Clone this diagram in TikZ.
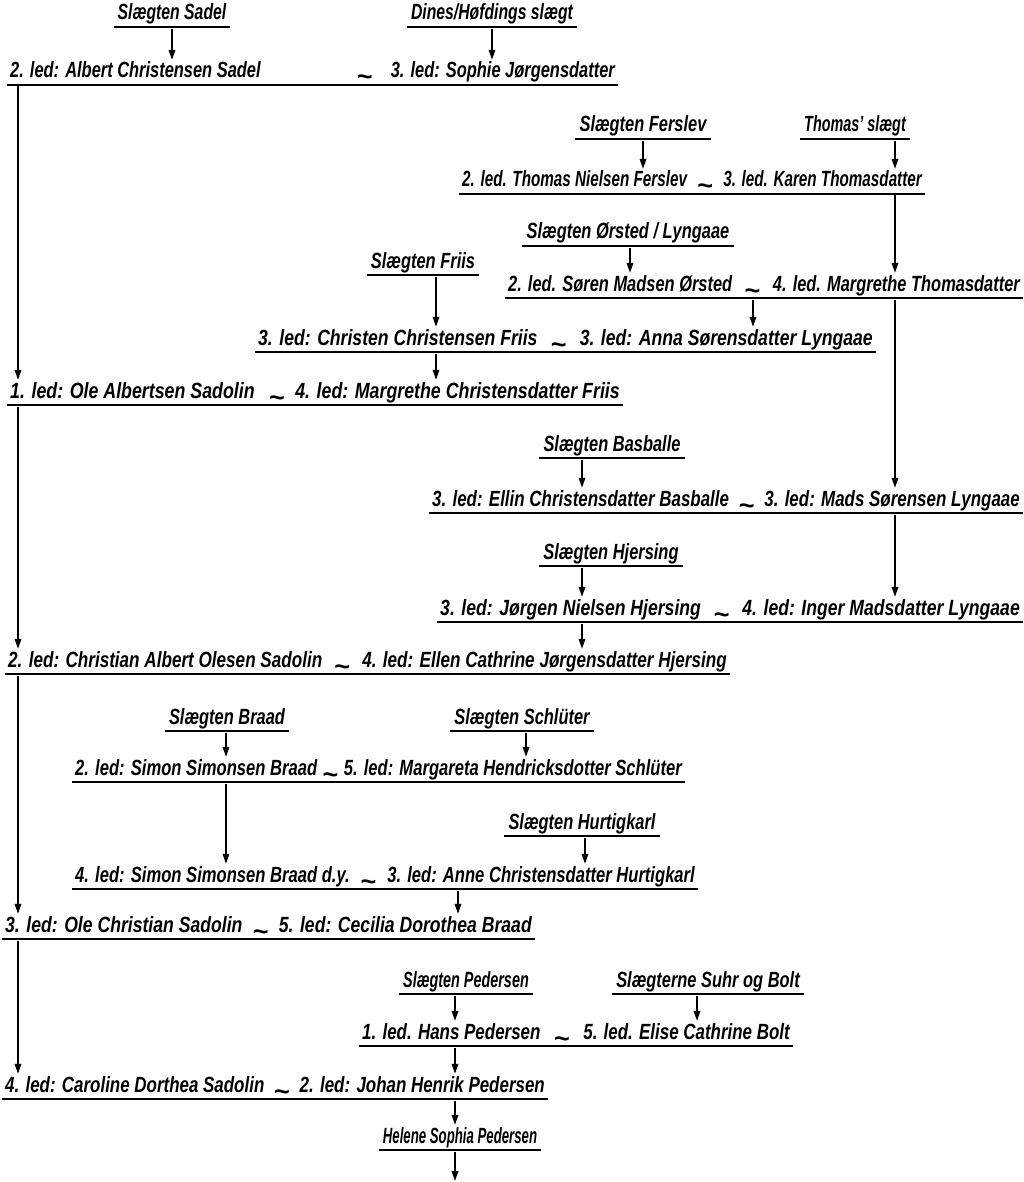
\documentclass[tikz,border=0pt]{standalone}
\usepackage{graphicx}
\usepackage{fontspec}
\setmainfont{Liberation Sans}[FakeStretch=0.77]
\usetikzlibrary{arrows.meta,calc}
% family heading: name, centre x, baseline y, x-scale, text
\newcommand\famhead[5]{%
  \node[hd] (#1) at (#2,#3) {\scalebox{#4}[1]{#5}};
  \draw[uline] ($(#1.base west)+(-4,7)$) -- ($(#1.base east)+(4,7)$);}
% couple: name, baseline y, left x, right end x, x-scale, tilde fraction, left text, right text
\newcommand\couple[8]{%
  \node[lt] (#1l) at (#3,#2) {\scalebox{#5}[1]{#7}};
  \node[rt] (#1r) at (#4,#2) {\scalebox{#5}[1]{#8}};
  \node[til] (#1t) at ($(#1l.base east)!#6!(#1r.base west)+(0,8)$) {\scalebox{1.35}[1]{\textasciitilde}};
  \draw[uline] ($(#1l.base west)+(-3,7)$) -- ($(#1r.base east)+(3,7)$);}
\begin{document}
\begin{tikzpicture}[x=1pt,y=-1pt,
  txt/.style={font=\fontsize{22}{23}\selectfont\bfseries\itshape, inner sep=0pt},
  hd/.style={txt, anchor=base},
  lt/.style={txt, anchor=base west},
  rt/.style={txt, anchor=base east},
  til/.style={inner sep=0pt, anchor=base, font=\fontsize{26}{26}\selectfont\bfseries},
  uline/.style={line width=2.4pt},
  arr/.style={line width=1.8pt, -{Triangle[length=10pt,width=6.5pt]}}]
\fill[white] (0,0) rectangle (1023,1182);
\useasboundingbox (0,0) rectangle (1023,1182);

% columns of the connectors
\coordinate (cA)   at (18,0);
\coordinate (cSad) at (172,0);
\coordinate (cDin) at (492,0);
\coordinate (cFer) at (643,0);
\coordinate (cD)   at (895,0);
\coordinate (cOr)  at (630,0);
\coordinate (cFr)  at (436,0);
\coordinate (cC)   at (753,0);
\coordinate (cE)   at (582,0);
\coordinate (cF)   at (226,0);
\coordinate (cSch) at (526,0);
\coordinate (cHur) at (585,0);
\coordinate (cG)   at (458,0);
\coordinate (cH)   at (455,0);
\coordinate (cSuhr) at (697,0);

% ---------- headings and couples ----------
\famhead{h1}{172}{20}{0.93}{Slægten Sadel}
\famhead{h2}{492}{20}{0.93}{Dines/Høfdings slægt}
\couple{r1}{78}{10}{615}{0.97}{0.8}{2. led: Albert Christensen Sadel}{3. led: Sophie Jørgensdatter}

\famhead{h3}{643}{132}{0.97}{Slægten Ferslev}
\famhead{h4}{855}{132}{0.85}{Thomas' slægt}
\couple{r2}{187}{462}{922}{0.9}{0.5}{2. led. Thomas Nielsen Ferslev}{3. led. Karen Thomasdatter}

\famhead{h5}{628}{239}{0.97}{Slægten Ørsted / Lyngaae}
\famhead{h6}{423}{268}{0.97}{Slægten Friis}
\couple{r3}{291}{508}{1020}{0.97}{0.5}{2. led. Søren Madsen Ørsted}{4. led. Margrethe Thomasdatter}

\couple{r4}{345}{258}{873}{1.04}{0.5}{3. led: Christen Christensen Friis}{3. led: Anna Sørensdatter Lyngaae}

\couple{r5}{398}{10}{620}{1.05}{0.55}{1. led: Ole Albertsen Sadolin}{4. led: Margrethe Christensdatter Friis}

\famhead{h7}{612}{451}{0.97}{Slægten Basballe}
\couple{r6}{506}{432}{1020}{1}{0.5}{3. led: Ellin Christensdatter Basballe}{3. led: Mads Sørensen Lyngaae}

\famhead{h8}{611}{559}{0.97}{Slægten Hjersing}
\couple{r7}{615}{440}{1020}{1.04}{0.5}{3. led: Jørgen Nielsen Hjersing}{4. led: Inger Madsdatter Lyngaae}

\couple{r8}{667}{8}{727}{1.01}{0.5}{2. led: Christian Albert Olesen Sadolin}{4. led: Ellen Cathrine Jørgensdatter Hjersing}

\famhead{h9}{227}{724}{0.97}{Slægten Braad}
\famhead{h10}{522}{724}{0.97}{Slægten Schlüter}
\couple{r9}{775}{75}{682}{0.98}{0.5}{2. led: Simon Simonsen Braad}{5. led: Margareta Hendricksdotter Schlüter}

\famhead{h11}{582}{829}{0.97}{Slægten Hurtigkarl}
\couple{r10}{882}{75}{695}{0.98}{0.5}{4. led: Simon Simonsen Braad d.y.}{3. led: Anne Christensdatter Hurtigkarl}

\couple{r11}{932}{5}{532}{1.04}{0.5}{3. led: Ole Christian Sadolin}{5. led: Cecilia Dorothea Braad}

\famhead{h12}{466}{987}{0.85}{Slægten Pedersen}
\famhead{h13}{708}{987}{0.97}{Slægterne Suhr og Bolt}
\couple{r12}{1039}{362}{790}{1}{0.5}{1. led. Hans Pedersen}{5. led. Elise Cathrine Bolt}

\couple{r13}{1092}{5}{545}{1}{0.5}{4. led: Caroline Dorthea Sadolin}{2. led: Johan Henrik Pedersen}

\famhead{h14}{460}{1143}{0.78}{Helene Sophia Pedersen}
\coordinate (end) at (455,1181);

% ---------- arrows from the family headings ----------
\foreach \h/\c/\r in {h1/cSad/r1l, h2/cDin/r1l, h3/cFer/r2l, h4/cD/r2l,
                      h5/cOr/r3l, h6/cFr/r4l, h7/cE/r6l, h8/cE/r7l,
                      h9/cF/r9l, h10/cSch/r9l, h11/cHur/r10l,
                      h12/cH/r12l, h13/cSuhr/r12l}
  \draw[arr] ($(\h.base -| \c)+(0,9)$) -- ($(\c |- \r.north)+(0,-2)$);

% ---------- arrows between the couples ----------
\foreach \s/\c/\r in {r1l/cA/r5l, r2l/cD/r3l, r3l/cC/r4l, r4l/cFr/r5l,
                      r3l/cD/r6l, r5l/cA/r8l, r6l/cD/r7l, r7l/cE/r8l,
                      r8l/cA/r11l, r9l/cF/r10l, r10l/cG/r11l, r11l/cA/r13l,
                      r12l/cH/r13l, r13l/cH/h14}
  \draw[arr] ($(\s.base -| \c)+(0,8.5)$) -- ($(\c |- \r.north)+(0,-2)$);
\draw[arr] ($(h14.base -| cH)+(0,9)$) -- (end);
\end{tikzpicture}
\end{document}
